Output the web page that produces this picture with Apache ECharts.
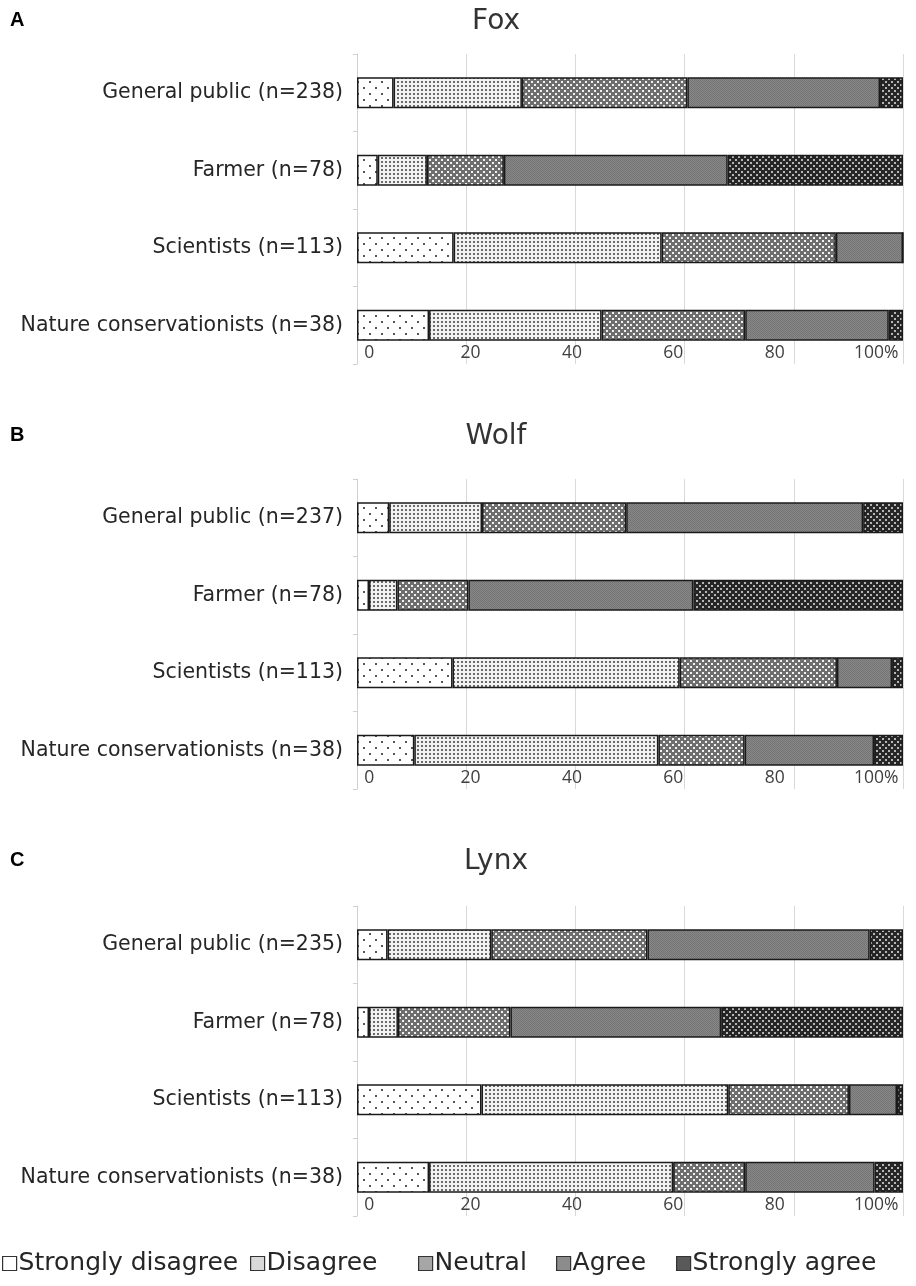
<!DOCTYPE html>
<html>
<head>
<meta charset="utf-8">
<script src="https://cdn.jsdelivr.net/npm/echarts@6/dist/echarts.min.js"></script>
<style>
html,body{margin:0;padding:0;background:#fff;}
#chart{width:916px;height:1286px;}
</style>
</head>
<body>
<div id="chart"></div>
<script>
// ---- data ----
const groups = ['General public', 'Farmer', 'Scientists', 'Nature conservationists'];
const foxLabels = ['General public (n=238)', 'Farmer (n=78)', 'Scientists (n=113)', 'Nature conservationists (n=38)'];
const wolfLabels = ['General public (n=237)', 'Farmer (n=78)', 'Scientists (n=113)', 'Nature conservationists (n=38)'];
const lynxLabels = ['General public (n=235)', 'Farmer (n=78)', 'Scientists (n=113)', 'Nature conservationists (n=38)'];
const responses = ['Strongly disagree', 'Disagree', 'Neutral', 'Agree', 'Strongly agree'];
const panelLetters = ['A', 'B', 'C'];
const panelTitles = ['Fox', 'Wolf', 'Lynx'];
const tickValues = [0, 20, 40, 60, 80, 100];

// values per response, in order of groups (percent)
const foxStronglyDisagree = [6.7, 3.8, 17.7, 13.2];
const foxDisagree = [23.5, 9.0, 38.1, 31.6];
const foxNeutral = [30.3, 14.1, 31.9, 26.3];
const foxAgree = [35.3, 41.0, 12.3, 26.3];
const foxStronglyAgree = [4.2, 32.1, 0, 2.6];

const wolfStronglyDisagree = [5.9, 2.2, 17.5, 10.5];
const wolfDisagree = [17.0, 5.2, 41.6, 44.7];
const wolfNeutral = [26.4, 13.0, 28.8, 15.8];
const wolfAgree = [43.4, 41.2, 10.1, 23.7];
const wolfStronglyAgree = [7.3, 38.4, 2.0, 5.3];

const lynxStronglyDisagree = [5.6, 2.2, 22.8, 13.2];
const lynxDisagree = [19.0, 5.3, 45.2, 44.7];
const lynxNeutral = [28.6, 20.6, 22.1, 13.2];
const lynxAgree = [40.7, 38.6, 8.8, 23.7];
const lynxStronglyAgree = [6.1, 33.3, 1.1, 5.2];

const panelData = [
  [foxStronglyDisagree, foxDisagree, foxNeutral, foxAgree, foxStronglyAgree],
  [wolfStronglyDisagree, wolfDisagree, wolfNeutral, wolfAgree, wolfStronglyAgree],
  [lynxStronglyDisagree, lynxDisagree, lynxNeutral, lynxAgree, lynxStronglyAgree]
];
const panelCats = [foxLabels, wolfLabels, lynxLabels];

// ---- patterns ----
function makePattern(size, bg, dotColor, dots, r) {
  const c = document.createElement('canvas');
  c.width = size; c.height = size;
  const ctx = c.getContext('2d');
  ctx.fillStyle = bg; ctx.fillRect(0, 0, size, size);
  ctx.fillStyle = dotColor;
  dots.forEach(d => { ctx.fillRect(d[0], d[1], r, r); });
  return { image: c, repeat: 'repeat' };
}
const patterns = [
  makePattern(12, '#ffffff', '#555555', [[3, 3], [9, 9]], 2),
  makePattern(4, '#f2f2f2', '#6a6a6a', [[1, 1]], 2),
  makePattern(6, '#6e6e6e', '#f0f0f0', [[0, 0], [3, 3]], 2),
  makePattern(2, '#888888', '#747474', [[0, 0], [1, 1]], 1),
  makePattern(6, '#262626', '#b5b5b5', [[0, 0], [3, 3]], 2)
];
const legendColors = ['#ffffff', '#d9d9d9', '#a6a6a6', '#8c8c8c', '#595959'];
const legendLefts = [2, 250, 418, 556, 676];

// ---- layout ----
const gridTops = [54, 479, 906];
const gridH = 310;
const FONT = '"Open Sans", "Noto Sans", sans-serif';
const WIDE = '"DejaVu Sans", sans-serif';

const grids = [], xAxes = [], yAxes = [], series = [], graphics = [];
gridTops.forEach((top, p) => {
  grids.push({ left: 357, right: 13, top: top, height: gridH });
  xAxes.push({
    gridIndex: p, type: 'value', min: 0, max: 100, interval: 20,
    axisLabel: { show: false }, axisLine: { show: false }, axisTick: { show: false },
    splitLine: { show: true, lineStyle: { color: '#d9d9d9', width: 1 } }
  });
  xAxes.push({
    gridIndex: p, type: 'value', min: -2.4, max: 105.3, position: 'bottom', offset: -20,
    axisLine: { show: false }, axisTick: { show: false }, splitLine: { show: false },
    axisLabel: {
      customValues: tickValues, margin: 0, fontSize: 17.5, color: '#404040', fontFamily: FONT,
      verticalAlign: 'top',
      formatter: v => (v === 100 ? '100%' : String(v))
    }
  });
  yAxes.push({
    gridIndex: p, type: 'category', inverse: true, data: panelCats[p],
    axisLine: { show: true, lineStyle: { color: '#d0d0d0' } },
    axisTick: { show: true, length: 4, lineStyle: { color: '#d0d0d0' } },
    axisLabel: { fontSize: 20.5, color: '#262626', margin: 14, fontFamily: WIDE }
  });
  responses.forEach((name, k) => {
    series.push({
      name: name, type: 'bar', stack: 'p' + p, xAxisIndex: p * 2, yAxisIndex: p,
      barWidth: 31, data: panelData[p][k],
      itemStyle: { color: patterns[k], borderColor: '#1a1a1a', borderWidth: 1.5 },
      emphasis: { disabled: true }
    });
  });
  const ty = [22, 437, 862][p];
  graphics.push({
    type: 'text', left: 10, top: ty - 12,
    style: { text: panelLetters[p], font: 'bold 20px "Liberation Sans", Arial, sans-serif', fill: '#000' }
  });
  graphics.push({
    type: 'text', x: 496, y: ty,
    style: { text: panelTitles[p], font: '28px ' + WIDE, fill: '#333', align: 'center', verticalAlign: 'middle' }
  });
});

const legends = responses.map((n, k) => ({
  data: [{ name: n, itemStyle: { color: legendColors[k], borderColor: '#333', borderWidth: 1.2 } }],
  left: legendLefts[k], top: 1251, icon: 'rect', itemWidth: 14, itemHeight: 14, padding: 0,
  textStyle: { fontSize: 25, color: '#262626', fontFamily: WIDE, padding: [0, 0, 0, -3] }
}));

const chart = echarts.init(document.getElementById('chart'), null, { renderer: 'canvas' });
chart.setOption({
  animation: false,
  backgroundColor: '#ffffff',
  grid: grids,
  xAxis: xAxes,
  yAxis: yAxes,
  series: series,
  graphic: graphics,
  legend: legends
});
</script>
</body>
</html>
